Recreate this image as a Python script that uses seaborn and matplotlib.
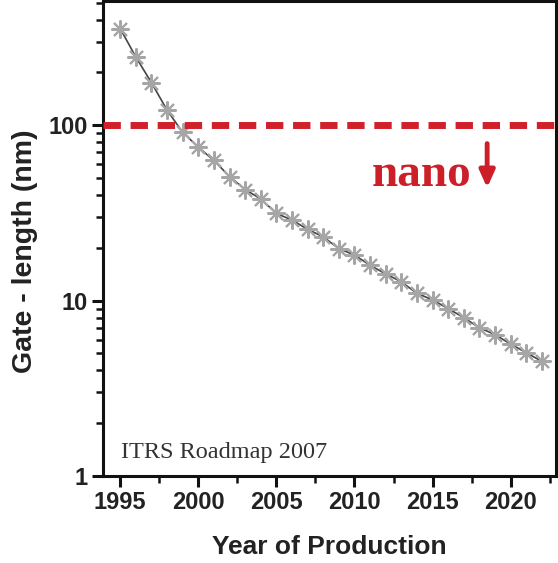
import numpy as np
import pandas as pd
import matplotlib
matplotlib.use("Agg")
import matplotlib.pyplot as plt
import seaborn as sns
from matplotlib.ticker import MultipleLocator, LogLocator, FixedLocator, FixedFormatter, NullFormatter

# -------------------------------
# Data
# -------------------------------
years = list(range(1995, 2023))
gate_nm = [356, 245, 175, 122, 91, 75, 63, 51, 43, 38, 31.4, 28.8, 25.5, 23.1,
           19.8, 18.2, 15.9, 14.2, 12.8, 11.0, 10.1, 9.0, 8.0, 7.0, 6.4, 5.65,
           5.05, 4.5]
nano_level = 100
y_ticks = [1, 10, 100]
y_tick_labels = ["1", "10", "100"]

df = pd.DataFrame({"year": years, "gate": gate_nm})

sns.set_style("ticks")
plt.rcParams["font.family"] = ["Liberation Sans", "DejaVu Sans"]

fig = plt.figure(figsize=(5.58, 5.63), dpi=100)
ax = fig.add_axes([0.1846, 0.1545, 0.8118, 0.8435])

sns.lineplot(data=df, x="year", y="gate", ax=ax, color="#444444", linewidth=1.2,
             marker=(8, 2, 0), markersize=13, markeredgecolor="#a6a6a6",
             markeredgewidth=1.5)

# red dashed "nano" threshold
ax.axhline(nano_level, color="#d0202a", linewidth=5, dashes=(2.5, 1.4), zorder=3)

ax.set_yscale("log")
ax.set_xlim(1993.9, 2022.9)
ax.set_ylim(1, 510)

ax.xaxis.set_major_locator(MultipleLocator(5))
ax.xaxis.set_minor_locator(MultipleLocator(2.5))
ax.yaxis.set_major_locator(FixedLocator(y_ticks))
ax.yaxis.set_major_formatter(FixedFormatter(y_tick_labels))
ax.yaxis.set_minor_locator(LogLocator(base=10, subs=np.arange(2, 10)))
ax.yaxis.set_minor_formatter(NullFormatter())

for s in ax.spines.values():
    s.set_linewidth(2.2)
    s.set_color("#111111")

ax.tick_params(which="major", direction="out", length=8, width=2.2,
               labelsize=17, pad=3, color="#111111")
ax.tick_params(which="minor", direction="out", length=5, width=1.8,
               color="#111111")
for lab in ax.get_xticklabels() + ax.get_yticklabels():
    lab.set_fontweight("bold")
    lab.set_color("#222222")

ax.set_xlabel("Year of Production", fontsize=19, fontweight="bold",
              color="#222222", labelpad=15)
ax.set_ylabel("Gate - length (nm)", fontsize=20.5, fontweight="bold",
              color="#222222")
ax.yaxis.set_label_coords(-0.143, 0.473)

ax.text(0.04, 0.038, "ITRS Roadmap 2007", transform=ax.transAxes,
        fontsize=17.5, family="Liberation Serif", color="#333333",
        va="baseline", ha="left")

ax.text(0.594, 0.611, "nano", transform=ax.transAxes, fontsize=34,
        family="Liberation Serif", fontweight="bold", color="#cc1f2a",
        va="baseline", ha="left")
ax.annotate("", xy=(0.848, 0.607), xytext=(0.848, 0.70),
            xycoords="axes fraction", textcoords="axes fraction",
            arrowprops=dict(arrowstyle="-|>,head_width=0.45,head_length=1.0",
                            color="#cc1f2a", lw=3.5, shrinkA=0, shrinkB=0))

fig.savefig("out.png", dpi=100)
